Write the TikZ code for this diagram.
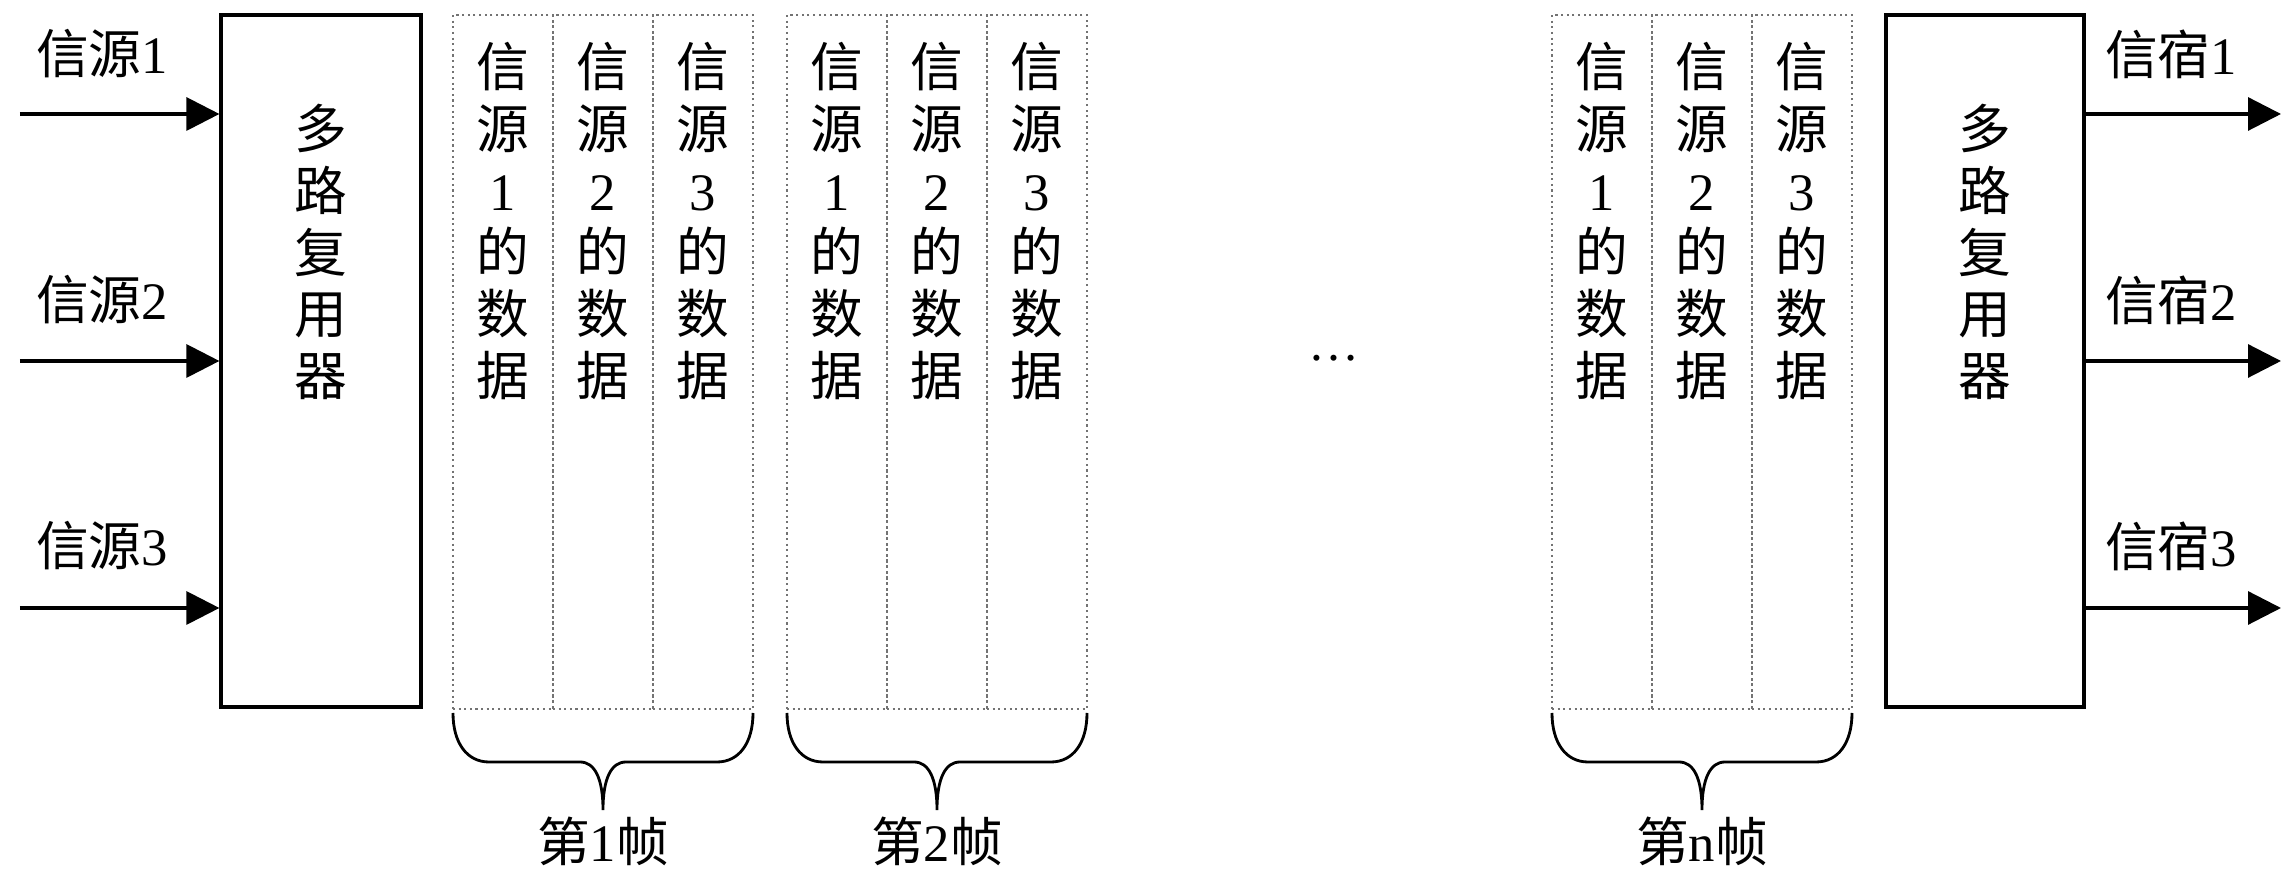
\documentclass[tikz,border=0pt]{standalone}
\usepackage{fontspec}
\setmainfont{Liberation Serif}
\newfontfamily\cjk{Noto Sans CJK SC}
\usetikzlibrary{arrows.meta,calc}
\begin{document}
\begin{tikzpicture}[x=1cm,y=1cm,
  cjkfont/.style={font=\cjk\fontsize{15}{17.6}\selectfont},
  muxbox/.style={draw, line width=0.9pt, minimum width=2cm, minimum height=6.92cm, inner sep=0pt},
  slot/.style={draw=black!55, densely dotted, line width=0.6pt, minimum width=1cm, minimum height=6.94cm, inner sep=0pt},
  vtext/.style={align=center, inner sep=0pt},
  arr/.style={-{Triangle[length=3.3mm,width=3.3mm]}, line width=0.9pt},
  brace/.style={line width=0.8pt},
  fbrace/.pic={\draw[brace] (0,0) .. controls (0,-0.30) and (0.14,-0.49) .. (0.36,-0.49) -- (1.27,-0.49) .. controls (1.42,-0.49) and (1.50,-0.66) .. (1.50,-0.97) .. controls (1.50,-0.66) and (1.58,-0.49) .. (1.73,-0.49) -- (2.64,-0.49) .. controls (2.86,-0.49) and (3.0,-0.30) .. (3.0,0);}
]
\useasboundingbox (0,0) rectangle (22.85,8.69);

% multiplexer boxes
\node[muxbox] (mux) at (3.21,5.08) {};
\node[muxbox, minimum width=1.98cm] (demux) at (19.85,5.08) {};
\node[cjkfont, vtext] (muxt) at (3.21,6.17) {多\\路\\复\\用\\器};
\node[cjkfont, vtext] (demuxt) at (19.85,6.17) {多\\路\\复\\用\\器};

% inputs
\coordinate (s1) at (0.20,7.55);
\coordinate (s2) at (0.20,5.08);
\coordinate (s3) at (0.20,2.61);
\draw[arr] (s1) -- (s1 -| mux.west);
\draw[arr] (s2) -- (s2 -| mux.west);
\draw[arr] (s3) -- (s3 -| mux.west);
\node[cjkfont] (ls1) at (1.02,8.15) {信源{\rmfamily 1}};
\node[cjkfont] (ls2) at (1.02,5.69) {信源{\rmfamily 2}};
\node[cjkfont] (ls3) at (1.02,3.23) {信源{\rmfamily 3}};

% outputs
\coordinate (o1) at (22.81,7.55);
\coordinate (o2) at (22.81,5.08);
\coordinate (o3) at (22.81,2.61);
\draw[arr] (o1 -| demux.east) -- (o1);
\draw[arr] (o2 -| demux.east) -- (o2);
\draw[arr] (o3 -| demux.east) -- (o3);
\node[cjkfont] (ld1) at (21.71,8.15) {信宿{\rmfamily 1}};
\node[cjkfont] (ld2) at (21.71,5.69) {信宿{\rmfamily 2}};
\node[cjkfont] (ld3) at (21.71,3.23) {信宿{\rmfamily 3}};

% frames
\foreach \f/\x in {1/4.53, 2/7.87, n/15.52} {
  \foreach \c in {1,2,3} {
    \node[slot] (f\f c\c) at (\x+\c-0.5, 5.07) {};
    \node[cjkfont, vtext] (t\f c\c) at (\x+\c-0.5, 6.48) {信\\源\\{\rmfamily\c}\\的\\数\\据};
  }
  \pic at (\x,1.56) {fbrace};
  \node[cjkfont] (lab\f) at (\x+1.5,0.28) {第{\rmfamily\f}帧};
}

\node[font=\fontsize{14.5}{16}\selectfont, inner sep=0pt] (dots) at (13.34,5.11) {…};
\end{tikzpicture}
\end{document}
